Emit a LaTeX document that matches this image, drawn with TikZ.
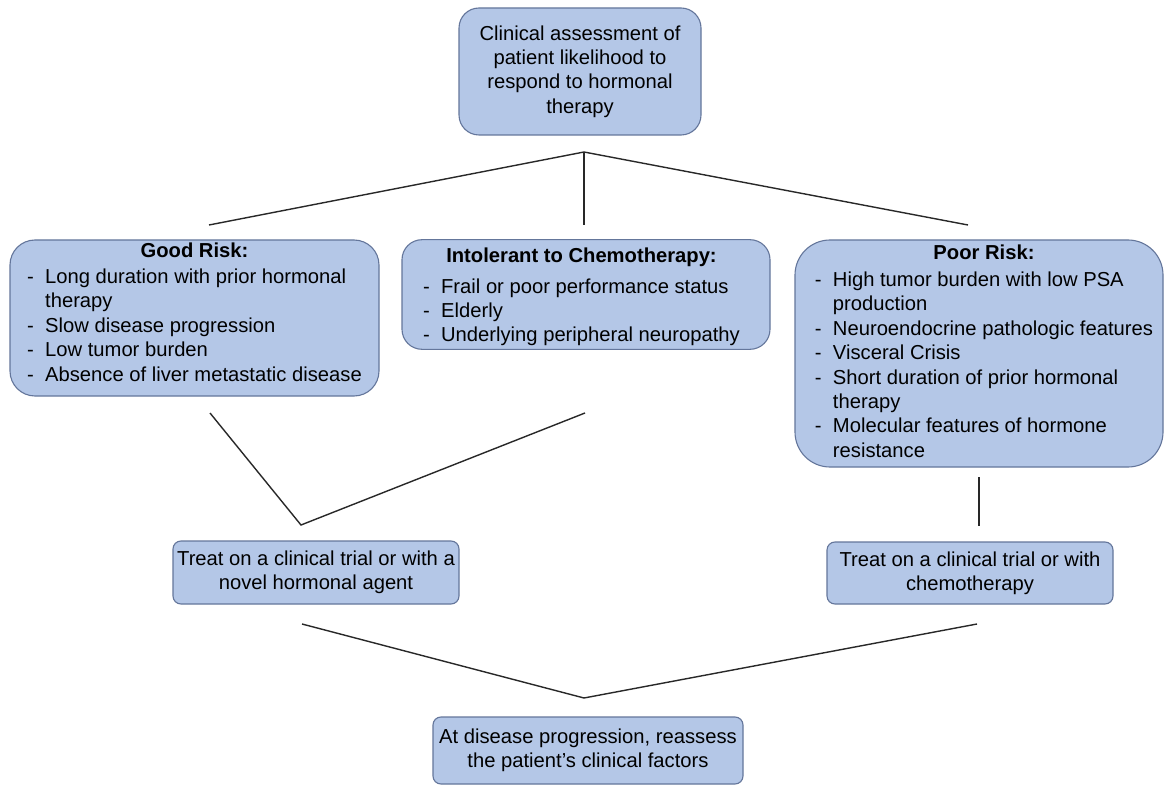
\documentclass[tikz,border=0pt]{standalone}
\usepackage{fontspec}
\setmainfont{Liberation Sans}
\usepackage{array}
\definecolor{boxfill}{RGB}{180,199,231}
\definecolor{boxline}{RGB}{100,118,155}
\definecolor{connline}{RGB}{40,40,40}
\begin{document}
\begin{tikzpicture}[x=1pt,y=-1pt,
  box/.style={draw=boxline, fill=boxfill, line width=1.1pt, inner sep=0pt,
    font=\fontsize{20.2}{24.4}\selectfont, align=center},
  conn/.style={draw=connline, line width=1.4pt}]
\useasboundingbox[fill=white] (0,0) rectangle (1165,786);

% boxes
\node[box, rounded corners=20pt, minimum width=242pt, minimum height=127pt] (top) at (580,71.5)
  {Clinical assessment of\\patient likelihood to\\respond to hormonal\\therapy};

\node[box, rounded corners=25pt, minimum width=369pt, minimum height=156pt] (good) at (194.5,318)
  {\begin{tabular}{@{}p{18pt}@{}l@{}}
   \multicolumn{2}{@{}c@{}}{\bfseries Good Risk:}\\[1.6pt]
   - & Long duration with prior hormonal\\
     & therapy\\
   - & Slow disease progression\\
   - & Low tumor burden\\
   - & Absence of liver metastatic disease\\[7pt]
   \end{tabular}};

\node[box, rounded corners=20pt, minimum width=368pt, minimum height=109pt] (intol) at (586,294.5)
  {\begin{tabular}{@{}p{18pt}@{}l@{}}
   \multicolumn{2}{@{}c@{}}{\rule{0pt}{22.5pt}\bfseries Intolerant to Chemotherapy:}\\[6.6pt]
   - & Frail or poor performance status\\
   - & Elderly\\
   - & Underlying peripheral neuropathy
   \end{tabular}\hspace*{9pt}};

\node[box, rounded corners=35pt, minimum width=368pt, minimum height=227pt] (poor) at (979,353.5)
  {\hspace*{10pt}\begin{tabular}{@{}p{18pt}@{}l@{}}
   \multicolumn{2}{@{}c@{}}{\bfseries Poor Risk:}\\[2.6pt]
   - & High tumor burden with low PSA\\
     & production\\
   - & Neuroendocrine pathologic features\\
   - & Visceral Crisis\\
   - & Short duration of prior hormonal\\
     & therapy\\
   - & Molecular features of hormone\\
     & resistance
   \end{tabular}};

\node[box, rounded corners=8pt, minimum width=286pt, minimum height=63pt] (treatL) at (316,572.5)
  {Treat on a clinical trial or with a\\novel hormonal agent};
\node[box, rounded corners=8pt, minimum width=286pt, minimum height=62pt] (treatR) at (970,573)
  {Treat on a clinical trial or with\\chemotherapy};
\node[box, rounded corners=8pt, minimum width=310pt, minimum height=67pt] (bottom) at (588,750.5)
  {At disease progression, reassess\\the patient's clinical factors};

% connector end points
\coordinate (apex) at (584,152);
\coordinate (l1) at (209,225);
\coordinate (m1) at (584,225);
\coordinate (r1) at (968,225);
\coordinate (vL) at (210,413);
\coordinate (vB) at (301,525);
\coordinate (vR) at (585,413);
\coordinate (pT) at (979,477);
\coordinate (pB) at (979,526);
\coordinate (wL) at (302,624);
\coordinate (wB) at (584,698);
\coordinate (wR) at (977,624);

\draw[conn] (l1) -- (apex) -- (r1);
\draw[conn] (apex) -- (m1);
\draw[conn] (vL) -- (vB) -- (vR);
\draw[conn] (pT) -- (pB);
\draw[conn] (wL) -- (wB) -- (wR);
\end{tikzpicture}
\end{document}
